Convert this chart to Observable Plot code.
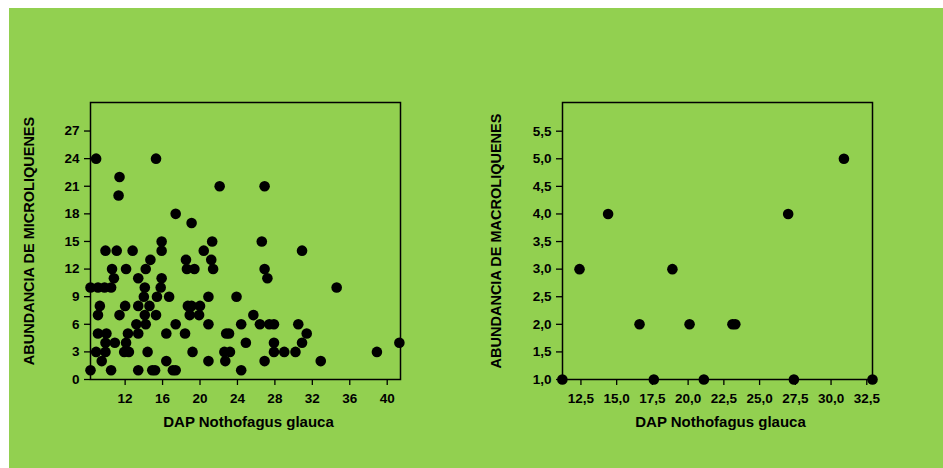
<!DOCTYPE html>
<html>
<head>
<meta charset="utf-8">
<script src="https://cdn.jsdelivr.net/npm/d3@7"></script>
<script src="https://cdn.jsdelivr.net/npm/@observablehq/plot@0.6"></script>
<style>
  html, body { margin: 0; padding: 0; background: #ffffff; }
  #wrap { position: relative; width: 943px; height: 468px; overflow: hidden; }
  #bg { position: absolute; left: 9px; top: 8px; width: 934px; height: 460px; background: #92D050; }
  #left, #right { position: absolute; top: 0; }
  #left { left: 0; }
  #right { left: 470px; }
  svg { background: transparent !important; }
</style>
</head>
<body>
<div id="wrap">
  <div id="bg"></div>
  <div id="left"></div>
  <div id="right"></div>
</div>
<script>
// Left panel: DAP vs abundancia de microlíquenes
const microDAP = [8.9,15.3,11.4,11.3,22.1,26.9,17.4,19.1,15.9,21.3,26.6,9.9,11.1,12.8,15.9,20.4,30.9,14.7,18.5,21.2,10.6,12.1,14.2,18.6,19.4,21.4,26.9,10.8,13.4,15.9,27.2,8.3,9.1,9.8,10.5,14.1,15.8,34.6,14.0,15.4,16.7,20.9,23.9,9.3,12.0,13.4,14.6,18.7,19.1,20.0,9.1,11.4,14.1,15.3,18.9,19.9,25.7,13.2,14.2,17.4,20.9,24.4,26.4,27.4,27.9,30.5,9.1,10.0,12.3,13.4,16.4,18.4,22.8,23.1,31.4,9.9,10.9,12.1,24.9,27.9,30.9,41.3,8.9,9.9,11.9,12.4,14.4,19.2,22.6,23.2,27.9,29.0,30.2,38.9,9.5,16.4,20.9,22.7,26.9,32.9,8.3,10.5,13.4,14.9,15.2,17.1,17.4,24.4];
const microAbund = [24,24,22,20,21,21,18,17,15,15,15,14,14,14,14,14,14,13,13,13,12,12,12,12,12,12,12,11,11,11,11,10,10,10,10,10,10,10,9,9,9,9,9,8,8,8,8,8,8,8,7,7,7,7,7,7,7,6,6,6,6,6,6,6,6,6,5,5,5,5,5,5,5,5,5,4,4,4,4,4,4,4,3,3,3,3,3,3,3,3,3,3,3,3,2,2,2,2,2,2,1,1,1,1,1,1,1,1];
const microXTicks = [12,16,20,24,28,32,36,40];
const microYTicks = [0,3,6,9,12,15,18,21,24,27];

// Right panel: DAP vs abundancia de macrolíquenes
const macroDAP = [11.2,12.4,14.4,16.6,17.6,18.9,20.1,21.1,23.1,23.3,27.0,27.4,30.9,32.9];
const macroAbund = [1,3,4,2,1,3,2,1,2,2,4,1,5,1];
const macroXTicks = [12.5,15,17.5,20,22.5,25,27.5,30,32.5];
const macroYTicks = [1,1.5,2,2.5,3,3.5,4,4.5,5,5.5];

const xTitle = "DAP Nothofagus glauca";
const microTitle = "ABUNDANCIA DE MICROLIQUENES";
const macroTitle = "ABUNDANCIA DE MACROLIQUENES";

const font = "'Liberation Sans', Arial, Helvetica, sans-serif";
const comma = d => d.toFixed(1).replace(".", ",");

function panel({xs, ys, xDomain, yDomain, xTicks, yTicks, xFmt, yFmt, yTitle, width, marginLeft, marginRight, yTitleDx, xTitleDx}) {
  const data = xs.map((x, i) => ({x, y: ys[i]}));
  return Plot.plot({
    width, height: 468,
    marginLeft, marginRight, marginTop: 102, marginBottom: 89,
    style: {fontFamily: font, color: "black", background: "transparent", overflow: "visible"},
    x: {domain: xDomain},
    y: {domain: yDomain},
    marks: [
      Plot.axisX({ticks: xTicks, tickFormat: xFmt, tickSize: 6, tickPadding: 8, fontSize: 13.5, fontWeight: "bold", label: null, stroke: "black", strokeWidth: 1.3}),
      Plot.axisY({ticks: yTicks, tickFormat: yFmt, tickSize: 6, tickPadding: 5, fontSize: 13.5, fontWeight: "bold", label: null, stroke: "black", strokeWidth: 1.3}),
      Plot.frame({stroke: "black", strokeWidth: 1.5}),
      Plot.dot(data, {x: "x", y: "y", r: 5.3, fill: "black", stroke: null}),
      Plot.text([yTitle], {frameAnchor: "left", text: d => d, rotate: -90, dx: yTitleDx, textAnchor: "middle", fontSize: 14.5, fontWeight: "bold", fill: "black", lineAnchor: "middle"}),
      Plot.text([xTitle], {frameAnchor: "bottom", text: d => d, dy: 43, dx: xTitleDx, textAnchor: "middle", fontSize: 15, fontWeight: "bold", fill: "black", lineAnchor: "middle"})
    ]
  });
}

document.getElementById("left").append(panel({
  xs: microDAP, ys: microAbund,
  xDomain: [8.3, 41.42], yDomain: [0, 30.1],
  xTicks: microXTicks, yTicks: microYTicks,
  xFmt: d => String(d), yFmt: d => String(d),
  yTitle: microTitle, width: 470, marginLeft: 90, marginRight: 70,
  yTitleDx: -61, xTitleDx: 3
}));

document.getElementById("right").append(panel({
  xs: macroDAP, ys: macroAbund,
  xDomain: [11.21, 32.9], yDomain: [1, 6.02],
  xTicks: macroXTicks, yTicks: macroYTicks,
  xFmt: comma, yFmt: comma,
  yTitle: macroTitle, width: 473, marginLeft: 92, marginRight: 71,
  yTitleDx: -66, xTitleDx: 3
}));
</script>
</body>
</html>
